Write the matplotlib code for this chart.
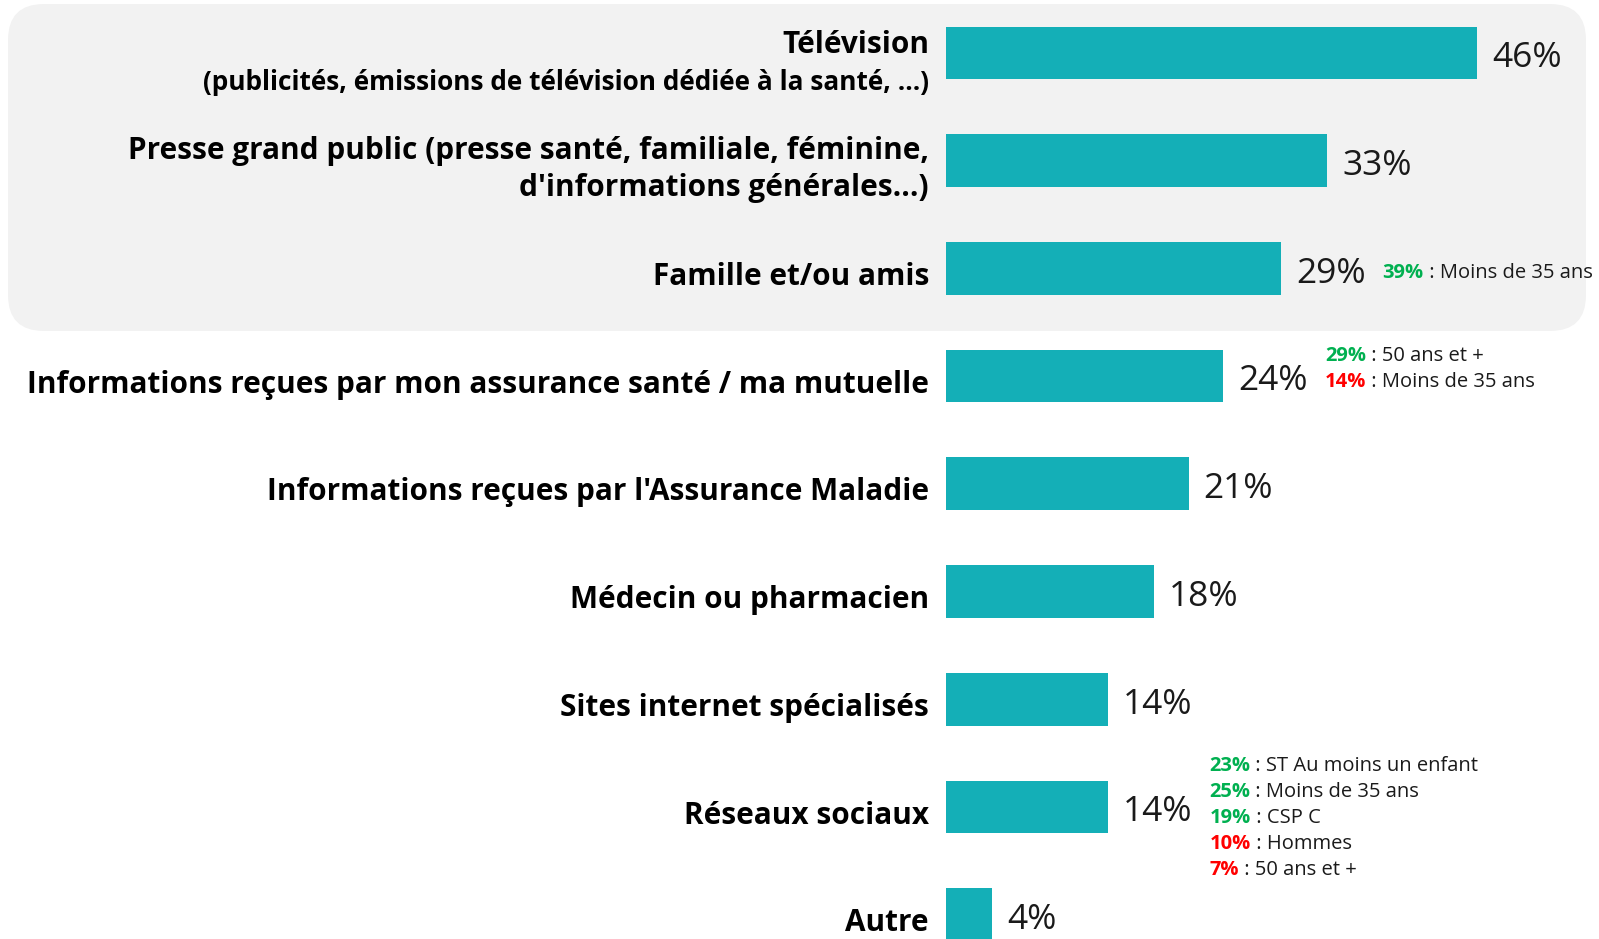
import matplotlib
matplotlib.use("Agg")
import matplotlib.pyplot as plt
from matplotlib.patches import FancyBboxPatch

plt.rcParams['font.family'] = ['Open Sans', 'DejaVu Sans']

categories = [
    "Télévision",
    "Presse grand public (presse santé, familiale, féminine,\nd'informations générales...)",
    "Famille et/ou amis",
    "Informations reçues par mon assurance santé / ma mutuelle",
    "Informations reçues par l'Assurance Maladie",
    "Médecin ou pharmacien",
    "Sites internet spécialisés",
    "Réseaux sociaux",
    "Autre",
]
tv_subtitle = "(publicités, émissions de télévision dédiée à la santé, ...)"
values = [46, 33, 29, 24, 21, 18, 14, 14, 4]

# sub-group remarks: row index -> list of (value text, colour key, group)
remarks = {
    2: [("39%", "up", "Moins de 35 ans")],
    3: [("29%", "up", "50 ans et +"),
        ("14%", "down", "Moins de 35 ans")],
    7: [("23%", "up", "ST Au moins un enfant"),
        ("25%", "up", "Moins de 35 ans"),
        ("19%", "up", "CSP C"),
        ("10%", "down", "Hommes"),
        ("7%", "down", "50 ans et +")],
}

bar_color = "#14AFB7"
remark_colors = {"up": "#00B050", "down": "#FF0000"}

W, H = 1599, 939
fig = plt.figure(figsize=(W / 100, H / 100), dpi=100)

# background layer in pixel units for the grey rounded box
bg = fig.add_axes([0, 0, 1, 1], zorder=0)
bg.set_xlim(0, W)
bg.set_ylim(H, 0)
bg.axis("off")
box = FancyBboxPatch((8, 4), 1578, 327, boxstyle="round,pad=0,rounding_size=36",
                     facecolor="#F2F2F2", edgecolor="none")
bg.add_patch(box)

# main axes: px per percent, rows 107.7 px apart
px_per_pct = 11.55
row_px = 107.7
left = 946 / W
xmax = (W - 946) / px_per_pct
ax = fig.add_axes([left, 0, 1 - left, 1], zorder=1)
ax.patch.set_alpha(0)
ax.set_xlim(0, xmax)
ax.set_ylim((H - 53) / row_px, -53 / row_px)
ax.axis("off")

ypos = list(range(len(categories)))
ax.barh(ypos, values, height=0.49, color=bar_color)

label_x = -17 / px_per_pct
for i, (cat, v) in enumerate(zip(categories, values)):
    if i == 0:
        ax.text(label_x, i - 0.07, cat, ha="right", va="center", fontsize=21.4,
                fontweight="bold", clip_on=False)
        ax.text(label_x, i + 0.27, tv_subtitle, ha="right", va="center", fontsize=18.9,
                fontweight="bold", clip_on=False)
    else:
        ax.text(label_x, i + 0.08, cat, ha="right", va="center", fontsize=21.4,
                fontweight="bold", linespacing=1.3, clip_on=False)
    ax.text(v + 1.3, i + 0.05, f"{v}%", ha="left", va="center", fontsize=25.5,
            color="#1a1a1a", clip_on=False)

# vertical nudge of each remark block (row units)
block_shift = {2: 0.04, 3: -0.07, 7: 0.1}
line_h = 26 / row_px
for i, items in remarks.items():
    n = len(items)
    for k, (pct, key, grp) in enumerate(items):
        y = i + block_shift[i] + (k - (n - 1) / 2) * line_h
        t = ax.text(values[i] + 8.8, y, pct, ha="left", va="center", fontsize=14.5,
                    fontweight="bold", color=remark_colors[key], clip_on=False)
        ax.annotate(" : " + grp, xy=(1, 0.5), xycoords=t, ha="left", va="center",
                    fontsize=14.5, color="#1a1a1a", annotation_clip=False)

fig.savefig("out.png", dpi=100)
